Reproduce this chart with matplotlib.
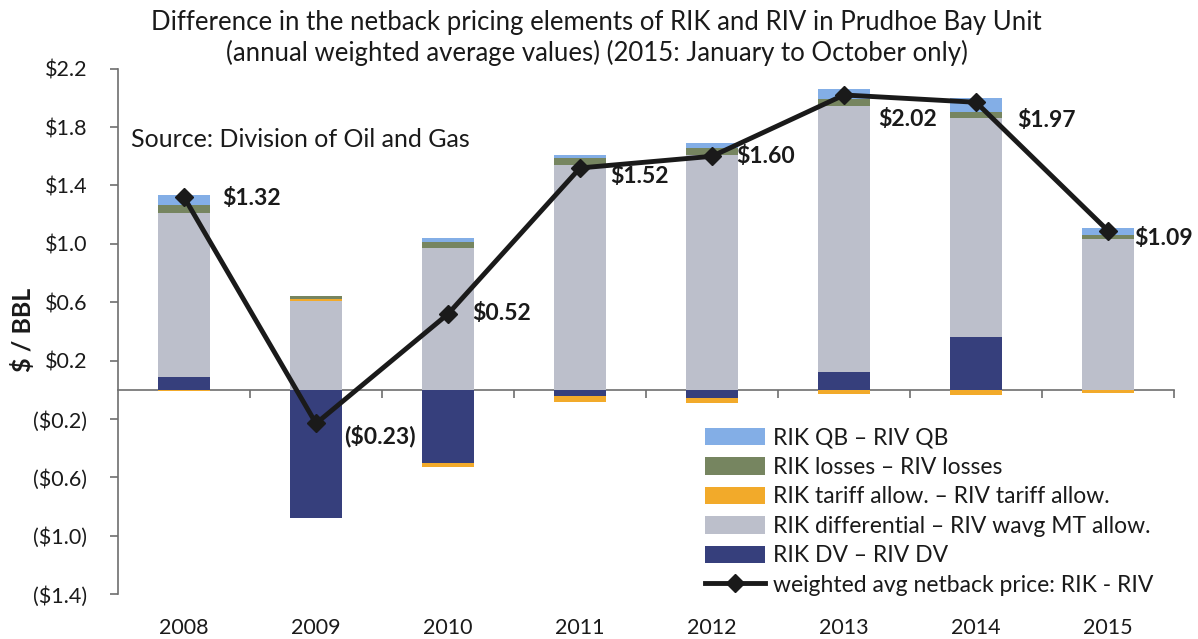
import numpy as np
import matplotlib.pyplot as plt
from matplotlib.ticker import FuncFormatter

plt.rcParams['font.family'] = ['Lato', 'DejaVu Sans']

# Data ($/BBL)
years = ['2008', '2009', '2010', '2011', '2012', '2013', '2014', '2015']
dv = [0.09, -0.88, -0.50, -0.04, -0.057, 0.125, 0.36, 0.0]
differential = [1.12, 0.61, 0.97, 1.54, 1.61, 1.82, 1.50, 1.035]
tariff = [-0.01, 0.01, -0.03, -0.04, -0.034, -0.027, -0.034, -0.018]
losses = [0.055, 0.02, 0.04, 0.046, 0.046, 0.05, 0.041, 0.027]
qb = [0.07, 0.0, 0.03, 0.023, 0.034, 0.068, 0.10, 0.046]
netback = [1.32, -0.23, 0.52, 1.52, 1.60, 2.02, 1.97, 1.09]

series = [
    ('RIK DV \u2013 RIV DV', dv, '#363f7c'),
    ('RIK differential \u2013 RIV wavg MT allow.', differential, '#bcbfcb'),
    ('RIK tariff allow. \u2013 RIV tariff allow.', tariff, '#f2aa2a'),
    ('RIK losses \u2013 RIV losses', losses, '#768560'),
    ('RIK QB \u2013 RIV QB', qb, '#83aee6'),
]

# label offsets in pixels (x, y) for the netback values
label_off = [(38, -1), (28, -13), (24, 0), (30, -9), (24, 0), (34, -25), (41, -18), (26, -8)]

fig = plt.figure(figsize=(11.98, 6.39), dpi=100)
ax = fig.add_axes([0.0985, 0.07, 0.8815, 0.8225])

x = np.arange(len(years))
pos_base = np.zeros(len(years))
neg_base = np.zeros(len(years))
handles = {}
for name, vals, color in series:
    vals = np.array(vals)
    base = np.where(vals >= 0, pos_base, neg_base)
    handles[name] = ax.bar(x, vals, width=0.4, bottom=base, color=color, label=name, zorder=2)
    pos_base += np.where(vals >= 0, vals, 0)
    neg_base += np.where(vals < 0, vals, 0)

line, = ax.plot(x, netback, color='#1a1a1a', lw=3.5, marker='D', ms=9,
                label='weighted avg netback price: RIK - RIV', zorder=4)

def money(v):
    return f'(${abs(v):.2f})' if v < 0 else f'${v:.2f}'

for xi, v, off in zip(x, netback, label_off):
    ax.annotate(money(v), (xi, v), xytext=off, textcoords='offset pixels',
                ha='left', va='center', fontsize=16.5, fontweight='bold', color='#1a1a1a', zorder=5)

ax.set_xlim(-0.5, len(years) - 0.5)
ax.set_ylim(-1.4, 2.2)
ax.set_yticks(np.arange(-1.4, 2.21, 0.4))
ax.yaxis.set_major_formatter(FuncFormatter(lambda v, p: f'(${abs(v):.1f})' if v < -1e-9 else f'${v:.1f}'))
ax.set_xticks(x)
ax.set_xticklabels(years)
ax.tick_params(axis='x', length=0, pad=17, labelsize=15.5, labelcolor='#1a1a1a')
ax.tick_params(axis='y', length=6, width=1.2, color='#6e6e6e', labelsize=15.5, labelcolor='#1a1a1a', pad=16)
for s in ['top', 'right', 'bottom']:
    ax.spines[s].set_visible(False)
ax.spines['left'].set_color('#6e6e6e')
ax.spines['left'].set_linewidth(1.2)

# zero line with category separators
zero = ax.secondary_xaxis(0, transform=ax.transData)
zero.set_xticks(np.arange(0.5, len(years) - 0.5, 1.0).tolist() + [len(years) - 0.5])
zero.set_xticklabels([])
zero.tick_params(length=6, width=1.2, color='#6e6e6e')
zero.spines['bottom'].set_color('#6e6e6e')
zero.spines['bottom'].set_linewidth(1.2)

ax.set_ylabel('$ / BBL', fontsize=18, fontweight='bold', color='#1a1a1a')
ax.yaxis.set_label_coords(-0.079, 0.503)

fig.text(0.498, 0.965, 'Difference in the netback pricing elements of RIK and RIV in Prudhoe Bay Unit',
         ha='center', va='center', fontsize=18.5, color='#1a1a1a')
fig.text(0.498, 0.917, '(annual weighted average values) (2015: January to October only)',
         ha='center', va='center', fontsize=18.5, color='#1a1a1a')
ax.text(0.012, 0.865, 'Source: Division of Oil and Gas', transform=ax.transAxes,
        fontsize=18, color='#1a1a1a', va='center')

order = ['RIK QB \u2013 RIV QB', 'RIK losses \u2013 RIV losses',
         'RIK tariff allow. \u2013 RIV tariff allow.',
         'RIK differential \u2013 RIV wavg MT allow.', 'RIK DV \u2013 RIV DV']
leg = ax.legend([handles[n] for n in order] + [line], order + [line.get_label()],
                loc='lower right', bbox_to_anchor=(1.0, -0.042), frameon=False,
                fontsize=16.5, handlelength=2.6, handleheight=0.8, labelspacing=0.37,
                handletextpad=0.35)
for t in leg.get_texts():
    t.set_color('#1a1a1a')

fig.savefig('out.png', dpi=100)
